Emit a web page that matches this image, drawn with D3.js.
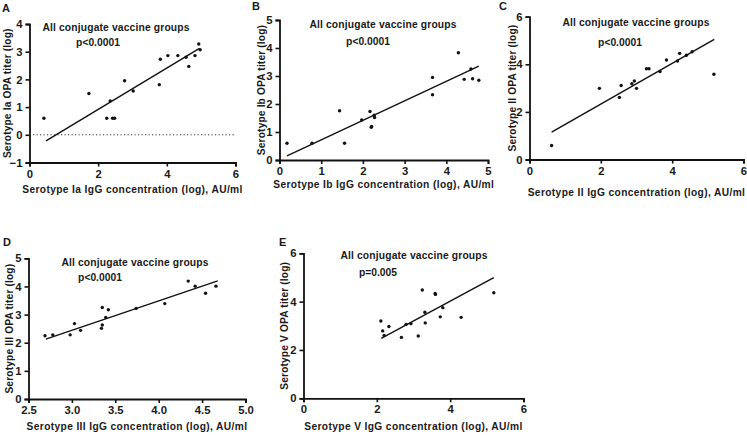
<!DOCTYPE html>
<html><head><meta charset="utf-8">
<script src="https://cdn.jsdelivr.net/npm/d3@7"></script>
<style>body{margin:0;background:#fff}svg{display:block}text{font-family:"Liberation Sans",Arial,sans-serif;font-weight:bold;fill:#1a1a1a}</style>
</head><body><svg id="c" width="747" height="435"></svg>
<script>
// ---- data ----
const panelLetters = ["A","B","C","D","E"];
const xLabels = ["Serotype Ia IgG concentration (log), AU/ml","Serotype Ib IgG concentration (log), AU/ml","Serotype II IgG concentration (log), AU/ml","Serotype III IgG concentration (log), AU/ml","Serotype V IgG concentration (log), AU/ml"];
const yLabels = ["Serotype Ia OPA titer (log)","Serotype Ib OPA titer (log)","Serotype II OPA  titer (log)","Serotype III OPA titer (log)","Serotype V OPA titer (log)"];
const pLabels = ["p<0.0001","p<0.0001","p<0.0001","p<0.0001","p=0.005"];
const groupLabel = "All conjugate vaccine groups";

const xTicksA = [0,2,4,6], yTicksA = [-1,0,1,2,3,4];
const xTicksB = [0,1,2,3,4,5], yTicksB = [0,1,2,3,4,5];
const xTicksC = [0,2,4,6], yTicksC = [0,2,4,6];
const xTicksD = [2.5,3.0,3.5,4.0,4.5,5.0], yTicksD = [0,1,2,3,4,5];
const xTicksE = [0,2,4,6], yTicksE = [0,2,4,6];

const ptsA = [[0.42,0.6],[1.73,1.49],[2.25,0.6],[2.35,1.22],[2.42,0.6],[2.48,0.6],[2.77,1.95],[3.02,1.58],[3.78,1.81],[3.81,2.73],[4.03,2.86],[4.32,2.86],[4.56,2.8],[4.64,2.47],[4.82,2.86],[4.93,3.28],[4.97,3.07]];
const ptsB = [[0.18,0.6],[0.78,0.6],[1.44,1.76],[1.56,0.6],[1.97,1.43],[2.17,1.73],[2.2,1.17],[2.21,1.2],[2.27,1.6],[2.28,1.52],[3.67,2.95],[3.67,2.33],[4.29,3.83],[4.43,2.88],[4.59,3.25],[4.63,2.9],[4.78,2.85]];
const ptsC = [[0.62,0.59],[1.96,2.99],[2.57,3.11],[2.52,2.61],[2.87,3.18],[2.94,3.3],[3.0,2.99],[3.28,3.81],[3.35,3.81],[3.66,3.7],[3.84,4.18],[4.15,4.14],[4.21,4.46],[4.4,4.38],[4.56,4.53],[5.17,3.58]];
const ptsD = [[2.69,2.25],[2.78,2.28],[2.98,2.28],[3.03,2.68],[3.1,2.44],[3.34,2.51],[3.35,3.25],[3.35,2.63],[3.39,2.9],[3.42,3.17],[3.74,3.22],[4.07,3.39],[4.34,4.19],[4.42,4.01],[4.54,3.76],[4.66,4.01]];
const ptsE = [[2.11,3.2],[2.16,2.79],[2.2,2.6],[2.33,2.97],[2.67,2.52],[2.8,3.06],[2.93,3.09],[3.13,2.58],[3.24,4.48],[3.31,3.56],[3.32,3.12],[3.59,4.34],[3.6,4.3],[3.73,3.37],[3.8,3.75],[4.3,3.35],[5.19,4.37]];

const fitA = [[0.48,-0.22],[4.95,3.12]];
const fitB = [[0.18,0.15],[4.78,3.35]];
const fitC = [[0.62,1.15],[5.18,5.05]];
const fitD = [[2.7,2.13],[4.68,4.2]];
const fitE = [[2.12,2.48],[5.19,4.99]];

// ---- layout ----
const layout = [
  {x0:29.5,x1:235.5,y0:162.5,y1:24,xd:[0,6],yd:[-1,4],xt:xTicksA,yt:yTicksA,pts:ptsA,fit:fitA,fmt:d3.format("d"),
   let:[2,12],ylx:7,xly:193,g:[116,31],p:[98,46],zero:true},
  {x0:279.5,x1:488,y0:160,y1:20,xd:[0,5],yd:[0,5],xt:xTicksB,yt:yTicksB,pts:ptsB,fit:fitB,fmt:d3.format("d"),
   let:[252,10],ylx:261,xly:188,g:[383,28],p:[368,45]},
  {x0:529.5,x1:743.5,y0:159.5,y1:16.7,xd:[0,6],yd:[0,6],xt:xTicksC,yt:yTicksC,pts:ptsC,fit:fitC,fmt:d3.format("d"),
   let:[499,10],ylx:512,xly:196,g:[636,26],p:[620,46]},
  {x0:28.5,x1:245.5,y0:399,y1:258.3,xd:[2.5,5],yd:[0,5],xt:xTicksD,yt:yTicksD,pts:ptsD,fit:fitD,fmt:d3.format(".1f"),
   let:[3,246],ylx:9,xly:430,g:[135,266],p:[100,281]},
  {x0:303.5,x1:523.5,y0:398.3,y1:253.3,xd:[0,6],yd:[0,6],xt:xTicksE,yt:yTicksE,pts:ptsE,fit:fitE,fmt:d3.format("d"),
   let:[279,246],ylx:284,xly:430,g:[414,259],p:[378,276]}
];

const svg = d3.select("#c");
layout.forEach((L,i)=>{
  const x = d3.scaleLinear().domain(L.xd).range([L.x0,L.x1]);
  const y = d3.scaleLinear().domain(L.yd).range([L.y0,L.y1]);
  const g = svg.append("g");
  const ax = g.append("g").attr("transform",`translate(0,${L.y0})`)
    .call(d3.axisBottom(x).tickValues(L.xt).tickFormat(L.fmt).tickSizeOuter(0).tickSize(4).tickPadding(3));
  const ay = g.append("g").attr("transform",`translate(${L.x0},0)`)
    .call(d3.axisLeft(y).tickValues(L.yt).tickFormat(d3.format("d")).tickSizeOuter(0).tickSize(4).tickPadding(3));
  [ax,ay].forEach(a=>{
    a.select(".domain").attr("stroke","#111").attr("stroke-width",1.8);
    a.selectAll(".tick line").attr("stroke","#111").attr("stroke-width",1.6);
    a.selectAll(".tick text").style("font-size","11.3px").style("font-family","'Liberation Sans',Arial,sans-serif").style("font-weight","bold").attr("fill","#1a1a1a");
  });
  if(L.zero){
    g.append("line").attr("x1",x(L.xd[0])).attr("x2",x(L.xd[1])).attr("y1",y(0)).attr("y2",y(0))
      .attr("stroke","#333").attr("stroke-width",1).attr("stroke-dasharray","1.2,2.3");
  }
  g.append("line").attr("x1",x(L.fit[0][0])).attr("y1",y(L.fit[0][1])).attr("x2",x(L.fit[1][0])).attr("y2",y(L.fit[1][1]))
    .attr("stroke","#111").attr("stroke-width",1.4);
  g.selectAll("circle.pt").data(L.pts).join("circle").attr("class","pt")
    .attr("cx",d=>x(d[0])).attr("cy",d=>y(d[1])).attr("r",1.7).attr("fill","#111");
  g.append("text").attr("x",L.let[0]).attr("y",L.let[1]).style("font-size","11px").text(panelLetters[i]);
  g.append("text").attr("x",(L.x0+L.x1)/2).attr("y",L.xly).attr("text-anchor","middle").style("font-size","10.2px").style("letter-spacing","0.38px").text(xLabels[i]);
  g.append("text").attr("transform",`translate(${L.ylx},${(L.y0+L.y1)/2}) rotate(-90)`).attr("text-anchor","middle").attr("dy","0.35em").style("font-size","10.2px").style("letter-spacing","0.15px").text(yLabels[i]);
  g.append("text").attr("x",L.g[0]).attr("y",L.g[1]).attr("text-anchor","middle").style("font-size","10.3px").style("letter-spacing","0.15px").text(groupLabel);
  g.append("text").attr("x",L.p[0]).attr("y",L.p[1]).attr("text-anchor","middle").style("font-size","10.3px").text(pLabels[i]);
});
</script></body></html>
